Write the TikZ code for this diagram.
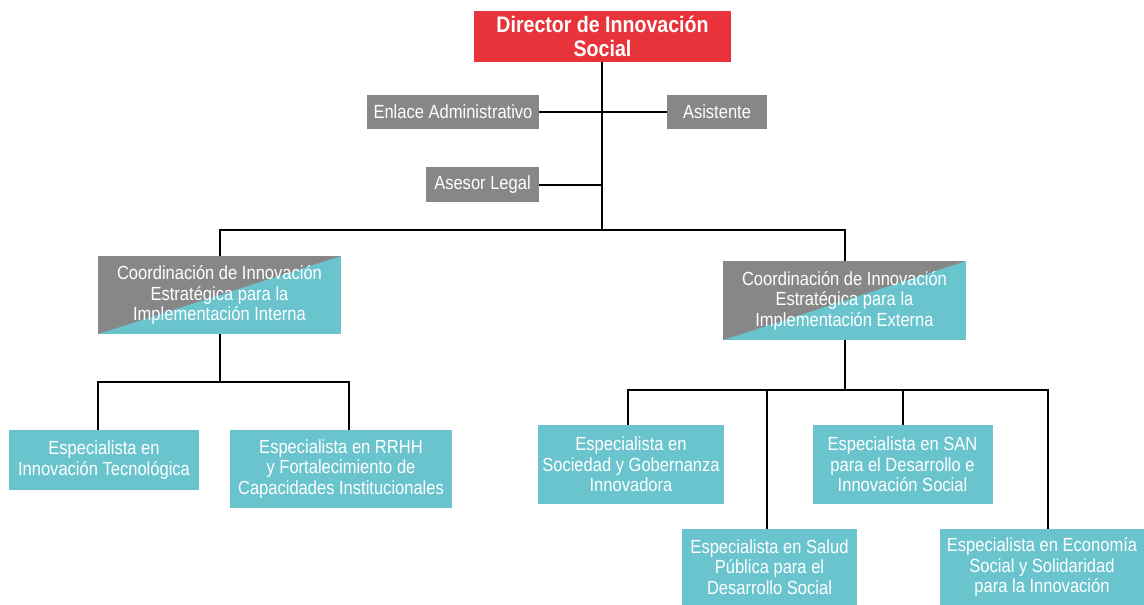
\documentclass[tikz,border=0pt]{standalone}
\usepackage{fontspec}
\setmainfont{Liberation Sans}[FakeStretch=0.87]
\definecolor{dred}{HTML}{E8333B}
\definecolor{dgray}{HTML}{878787}
\definecolor{dteal}{HTML}{6AC4CE}
\begin{document}
\begin{tikzpicture}[x=1pt,y=-1pt,
  box/.style={rectangle, inner sep=0pt, align=center, text=white,
    font=\fontsize{19}{20.5}\selectfont},
  graybox/.style={box, fill=dgray},
  tealbox/.style={box, fill=dteal},
  splitbox/.style={box, fill=dteal,
    path picture={\fill[dgray] (path picture bounding box.north west) -- (path picture bounding box.north east) -- (path picture bounding box.south west) -- cycle;}},
  redbox/.style={box, fill=dred, font=\fontsize{22.5}{24.5}\selectfont\bfseries},
  conn/.style={draw=black, line width=2pt}]
\useasboundingbox (0,0) rectangle (1144,605);
\node[redbox, minimum width=257pt, minimum height=51pt] (dir) at (602.5,36.5) {Director de Innovación\\Social};
\node[graybox, minimum width=172pt, minimum height=34pt] (enl) at (453,112) {Enlace Administrativo};
\node[graybox, minimum width=100pt, minimum height=34pt] (asi) at (717,112) {Asistente};
\node[graybox, minimum width=113pt, minimum height=35pt] (ase) at (482.5,184.5) {Asesor Legal};
\node[splitbox, minimum width=243pt, minimum height=78pt] (cl) at (219.5,295) {Coordinación de Innovación\\Estratégica para la\\Implementación Interna};
\node[splitbox, minimum width=243pt, minimum height=79pt] (cr) at (844.5,300.5) {Coordinación de Innovación\\Estratégica para la\\Implementación Externa};
\node[tealbox, minimum width=190pt, minimum height=60pt] (et) at (104,460) {Especialista en\\Innovación Tecnológica};
\node[tealbox, minimum width=222pt, minimum height=78pt] (rh) at (341,469) {Especialista en RRHH\\y Fortalecimiento de\\Capacidades Institucionales};
\node[tealbox, minimum width=186pt, minimum height=79pt] (so) at (631,464.5) {Especialista en\\Sociedad y Gobernanza\\Innovadora};
\node[tealbox, minimum width=180pt, minimum height=79pt] (sa) at (902.5,464.5) {Especialista en SAN\\para el Desarrollo e\\Innovación Social};
\node[tealbox, minimum width=175pt, minimum height=76pt] (sp) at (769.5,567) {Especialista en Salud\\Pública para el\\Desarrollo Social};
\node[tealbox, minimum width=204pt, minimum height=76pt] (ec) at (1042,567) {Especialista en Economía\\Social y Solidaridad\\para la Innovación};
% junctions
\coordinate (j0) at (602,230);
\coordinate (jl) at (219.5,382);
\coordinate (jr) at (844.5,390);
% top trunk
\draw[conn] (dir.south -| j0) -- (j0);
\draw[conn] (enl.east) -- (asi.west);
\draw[conn] (ase.east) -- (ase.east -| j0);
\draw[conn] (cl.north) |- (j0) -| (cr.north);
% left branch
\draw[conn] (cl.south) -- (jl);
\draw[conn] ([xshift=-6pt]et.north) |- (jl) -| ([xshift=8pt]rh.north);
% right branch
\draw[conn] (cr.south) -- (jr);
\draw[conn] ([xshift=-3pt]so.north) |- (jr) -| ([xshift=6pt]ec.north);
\draw[conn] ([xshift=-3pt]sp.north) -- ([xshift=-3pt]sp.north |- jr);
\draw[conn] (sa.north) -- (sa.north |- jr);
\end{tikzpicture}
\end{document}
